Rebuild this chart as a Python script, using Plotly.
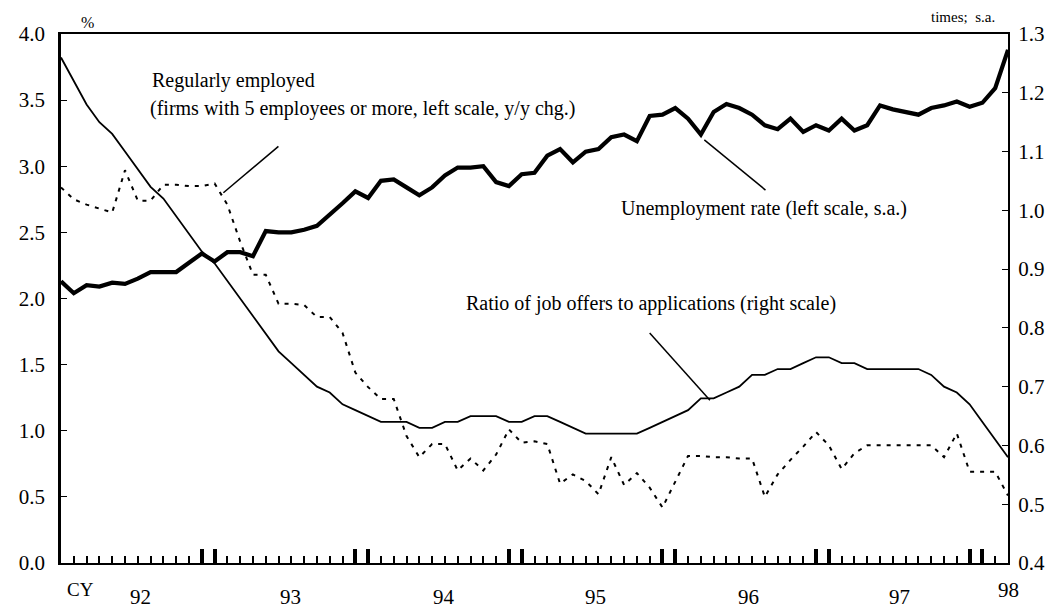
import plotly.graph_objects as go

# month index: 0 = Jan 1992 ... 74 = Mar 1998
months = list(range(75))

unemployment = [2.13, 2.04, 2.10, 2.09, 2.12, 2.11, 2.15, 2.20, 2.20, 2.20, 2.27, 2.34,
                2.28, 2.35, 2.35, 2.32, 2.51, 2.50, 2.50, 2.52, 2.55, 2.63, 2.72, 2.81,
                2.76, 2.89, 2.90, 2.84, 2.78, 2.84, 2.93, 2.99, 2.99, 3.00, 2.88, 2.85,
                2.94, 2.95, 3.08, 3.13, 3.03, 3.11, 3.13, 3.22, 3.24, 3.19, 3.38, 3.39,
                3.44, 3.36, 3.24, 3.41, 3.47, 3.44, 3.39, 3.31, 3.28, 3.36, 3.26, 3.31,
                3.27, 3.36, 3.27, 3.31, 3.46, 3.43, 3.41, 3.39, 3.44, 3.46, 3.49, 3.45,
                3.48, 3.59, 3.88]

job_ratio = [1.26, 1.22, 1.18, 1.15, 1.13, 1.10, 1.07, 1.04, 1.02, 0.99, 0.96, 0.93,
             0.91, 0.88, 0.85, 0.82, 0.79, 0.76, 0.74, 0.72, 0.70, 0.69, 0.67, 0.66,
             0.65, 0.64, 0.64, 0.64, 0.63, 0.63, 0.64, 0.64, 0.65, 0.65, 0.65, 0.64,
             0.64, 0.65, 0.65, 0.64, 0.63, 0.62, 0.62, 0.62, 0.62, 0.62, 0.63, 0.64,
             0.65, 0.66, 0.68, 0.68, 0.69, 0.70, 0.72, 0.72, 0.73, 0.73, 0.74, 0.75,
             0.75, 0.74, 0.74, 0.73, 0.73, 0.73, 0.73, 0.73, 0.72, 0.70, 0.69, 0.67,
             0.64, 0.61, 0.58]

regular_emp = [2.84, 2.75, 2.71, 2.68, 2.65, 2.97, 2.74, 2.74, 2.86, 2.86, 2.85, 2.85,
               2.87, 2.71, 2.43, 2.18, 2.18, 1.96, 1.96, 1.95, 1.86, 1.86, 1.74, 1.44,
               1.33, 1.24, 1.24, 0.96, 0.80, 0.90, 0.90, 0.70, 0.79, 0.70, 0.82, 1.01,
               0.91, 0.92, 0.90, 0.60, 0.67, 0.62, 0.52, 0.80, 0.59, 0.68, 0.57, 0.42,
               0.61, 0.81, 0.81, 0.80, 0.80, 0.79, 0.79, 0.50, 0.67, 0.78, 0.88, 0.99,
               0.89, 0.71, 0.83, 0.89, 0.89, 0.89, 0.89, 0.89, 0.89, 0.80, 0.98, 0.69,
               0.69, 0.69, 0.51]

major_ticks = [0, 11, 12, 23, 24, 35, 36, 47, 48, 59, 60, 71, 72]
year_labels = ["92", "93", "94", "95", "96", "97", "98"]
year_label_pos = [6.2, 17.9, 29.9, 41.8, 53.7, 65.5, 74.0]
left_ticks = [0.0, 0.5, 1.0, 1.5, 2.0, 2.5, 3.0, 3.5, 4.0]
right_ticks = [0.4, 0.5, 0.6, 0.7, 0.8, 0.9, 1.0, 1.1, 1.2, 1.3]

FONT = "Liberation Serif, Times New Roman, serif"
ANN = 20

fig = go.Figure()
fig.add_trace(go.Scatter(x=months, y=regular_emp, mode="lines", yaxis="y",
                         line=dict(color="black", width=2, dash="4px,6px"),
                         name="Regularly employed"))
fig.add_trace(go.Scatter(x=months, y=job_ratio, mode="lines", yaxis="y2",
                         line=dict(color="black", width=1.8),
                         name="Ratio of job offers to applications"))
fig.add_trace(go.Scatter(x=months, y=unemployment, mode="lines", yaxis="y",
                         line=dict(color="black", width=4.2),
                         name="Unemployment rate"))

annotations = []
for lab, pos in zip(year_labels, year_label_pos):
    annotations.append(dict(x=pos, y=(-0.051 if lab == "98" else -0.064), xref="x", yref="paper",
                            text=lab, showarrow=False, xanchor="center", yanchor="middle",
                            font=dict(size=21, family=FONT, color="black")))
annotations += [
    dict(x=0.3, y=-0.051, xref="x", yref="paper", text="CY", showarrow=False,
         xanchor="left", yanchor="middle", font=dict(size=19, family=FONT, color="black")),
    dict(x=0.0285, y=1.021, xref="paper", yref="paper", text="%", showarrow=False,
         xanchor="center", yanchor="middle", font=dict(size=16, family=FONT, color="black")),
    dict(x=0.988, y=1.033, xref="paper", yref="paper", text="times;  s.a.", showarrow=False,
         xanchor="right", yanchor="middle", font=dict(size=15, family=FONT, color="black")),
    dict(x=6.97, y=3.645, xref="x", yref="y", text="Regularly employed", showarrow=False,
         xanchor="left", yanchor="middle", font=dict(size=ANN, family=FONT, color="black")),
    dict(x=6.81, y=3.44, xref="x", yref="y",
         text="(firms with 5 employees or more, left scale, y/y chg.)", showarrow=False,
         xanchor="left", yanchor="middle", font=dict(size=ANN, family=FONT, color="black")),
    dict(x=54.97, y=2.68, xref="x", yref="y", text="Unemployment rate (left scale, s.a.)",
         showarrow=False, xanchor="center", yanchor="middle",
         font=dict(size=ANN, family=FONT, color="black")),
    dict(x=46.1, y=1.966, xref="x", yref="y",
         text="Ratio of job offers to applications (right scale)", showarrow=False,
         xanchor="center", yanchor="middle", font=dict(size=ANN, family=FONT, color="black")),
]

shapes = [
    dict(type="line", xref="x", yref="y", x0=16.99, y0=3.15, x1=12.69, y1=2.80,
         line=dict(color="black", width=1.5)),
    dict(type="line", xref="x", yref="y", x0=50.27, y0=3.20, x1=55.05, y1=2.82,
         line=dict(color="black", width=1.5)),
    dict(type="line", xref="x", yref="y", x0=46.0, y0=1.74, x1=50.71, y1=1.23,
         line=dict(color="black", width=1.5)),
]

# The page places the figure 8px in from the top-left corner, so the figure is
# sized and margined to put the plot area at x 61..1008, y 34..563 of the window.
fig.update_layout(
    width=1054, height=603,
    margin=dict(l=53, r=54, t=26, b=48),
    paper_bgcolor="white", plot_bgcolor="white",
    showlegend=False,
    font=dict(family=FONT, color="black", size=19),
    xaxis=dict(range=[0, 74], showgrid=False, zeroline=False,
               showline=True, linecolor="black", linewidth=2, mirror=True,
               ticks="inside", tickmode="array", tickvals=major_ticks,
               ticklen=14, tickwidth=3.5, tickcolor="black", showticklabels=False,
               minor=dict(ticks="inside", tickmode="linear", tick0=0, dtick=1,
                          ticklen=7, tickwidth=1.5, tickcolor="black", showgrid=False)),
    yaxis=dict(range=[0, 4], showgrid=False, zeroline=False,
               showline=True, linecolor="black", linewidth=2.5,
               ticks="inside", tickmode="array", tickvals=left_ticks,
               ticktext=[f"{v:.1f}" for v in left_ticks],
               ticklen=6, tickwidth=1, tickcolor="black",
               tickfont=dict(size=21, family=FONT, color="black"), ticklabelstandoff=9),
    yaxis2=dict(range=[0.4, 1.3], overlaying="y", side="right", showgrid=False,
                zeroline=False, showline=True, linecolor="black", linewidth=2,
                ticks="inside", tickmode="array", tickvals=right_ticks,
                ticktext=[f"{v:.1f}" for v in right_ticks],
                ticklen=6, tickwidth=1, tickcolor="black",
                tickfont=dict(size=21, family=FONT, color="black"), ticklabelstandoff=4),
    annotations=annotations,
    shapes=shapes,
)

fig.write_html("out.html")
